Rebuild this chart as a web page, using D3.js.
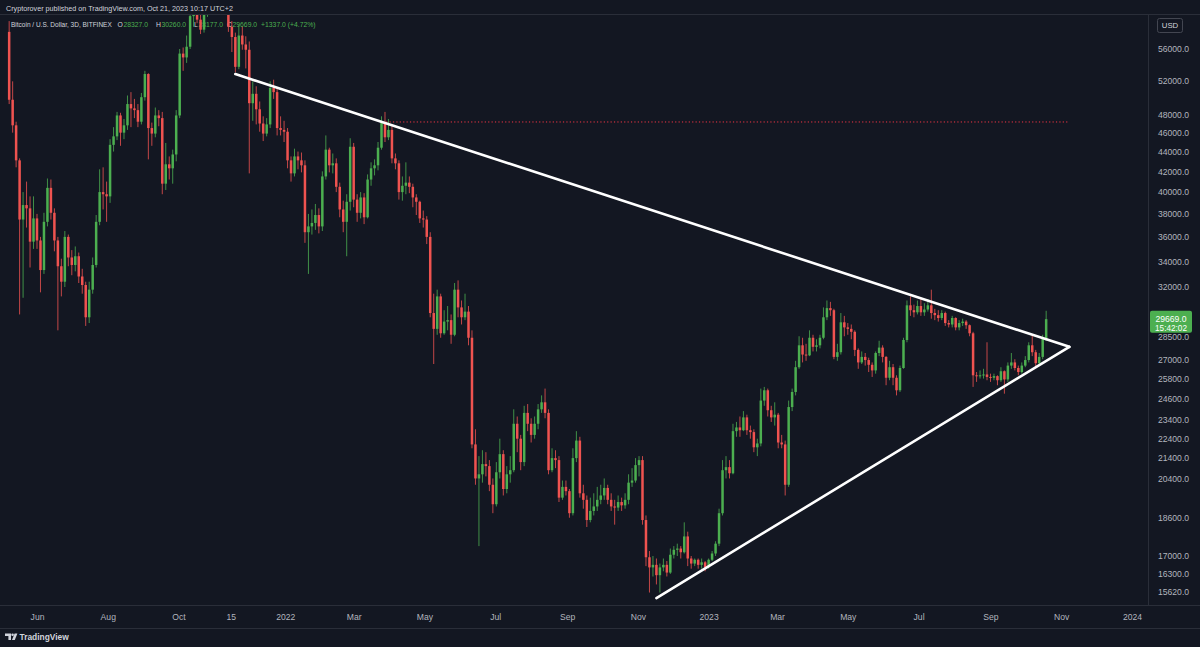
<!DOCTYPE html>
<html>
<head>
<meta charset="utf-8">
<script src="https://cdn.jsdelivr.net/npm/d3@7/dist/d3.min.js"></script>
<style>
  html, body { margin:0; padding:0; background:#131722; overflow:hidden; }
  svg { display:block; }
</style>
</head>
<body>
<svg id="c" width="1200" height="647"></svg>
<script>
// ---------------- DATA (prices in thousand USD, 3-day candles) ----------------
const firstBarStart = "2021-05-08";
const barDays = 3;
const firstOpen = 58.3;
const closes = [
 49.7,46.8,43.1,37.5,38.8,38.5,35.6,37.6,35.7,33.3,
 37.3,40.4,38.1,35.7,33.6,32.4,36.0,34.3,33.7,34.4,
 32.8,32.15,29.8,31.8,33.7,37.3,40.0,39.8,39.6,44.7,
 45.6,47.9,46.0,46.8,49.2,48.7,48.5,47.2,50.0,52.8,
 46.5,45.9,47.9,47.6,40.8,42.7,42.3,43.7,47.9,55.4,
 54.9,56.3,60.5,61.5,60.0,58.6,60.9,62.0,61.8,66.8,
 64.9,63.6,62.2,59.0,57.6,53.7,57.8,56.6,55.9,49.3,
 50.4,48.6,47.0,45.9,46.9,51.1,50.6,46.5,46.3,46.1,
 43.1,41.8,43.5,43.1,42.6,36.4,36.9,37.2,37.9,36.9,
 41.5,44.2,42.6,42.8,40.5,38.4,37.3,39.1,44.5,39.3,
 38.1,39.5,37.7,41.2,42.3,42.6,44.4,47.1,45.5,46.3,
 43.3,42.8,40.0,40.6,40.9,40.5,39.5,39.1,37.6,37.5,
 36.0,30.1,29.0,31.3,28.7,29.5,29.6,28.6,31.8,30.5,
 29.8,30.2,28.4,22.1,20.4,20.6,21.1,21.0,20.1,19.2,
 20.7,21.6,19.9,20.6,20.8,23.2,22.4,21.2,23.8,23.2,
 22.6,23.2,24.0,24.4,23.8,20.8,21.4,21.3,19.5,20.0,
 19.8,18.8,21.4,22.3,19.7,19.4,18.5,18.9,19.1,19.4,
 19.6,19.95,19.4,19.1,19.05,19.3,19.15,19.4,20.2,20.3,
 21.05,21.3,18.5,16.95,16.55,16.65,16.25,16.55,16.65,16.35,
 17.05,17.25,17.3,17.15,17.8,16.9,16.7,16.85,16.65,16.75,
 16.55,16.85,17.1,17.5,18.8,20.8,20.95,20.65,22.8,23.0,
 22.85,23.55,22.85,22.75,21.95,22.15,24.5,25.1,23.95,23.55,
 23.7,22.2,22.1,20.1,24.13,25.0,26.5,27.9,27.3,27.25,
 28.4,27.8,27.9,28.4,29.8,30.45,30.3,27.15,27.45,29.45,
 29.1,29.0,28.8,27.6,26.8,27.15,26.95,26.65,26.3,27.4,
 27.75,27.15,25.85,26.5,25.85,25.1,26.45,28.25,30.65,30.3,
 30.15,30.6,30.15,30.35,30.65,30.1,29.95,29.75,30.1,29.4,
 29.3,29.75,29.1,29.4,29.5,29.25,28.7,26.0,25.95,26.0,
 26.05,25.9,25.85,25.95,25.7,26.25,25.75,26.6,26.8,26.45,
 26.2,26.6,26.95,27.9,27.45,26.75,27.15,28.332,29.669
];
const highs = [
 59.8,51.9,47.2,43.3,40.0,41.0,39.6,39.6,38.0,36.0,
 38.1,41.3,41.2,38.5,36.0,34.2,36.5,36.2,34.9,35.2,
 34.7,33.4,32.4,32.4,34.3,37.9,42.2,42.4,41.0,45.3,
 46.6,48.3,48.2,47.5,50.2,50.6,49.8,49.2,50.5,53.2,
 52.9,47.1,48.8,48.5,48.3,44.9,43.5,44.2,48.5,56.0,
 56.2,57.8,62.5,62.9,66.9,62.0,62.5,63.5,64.3,68.6,
 69.0,66.0,65.5,63.5,59.8,58.2,59.3,59.0,57.7,57.0,
 51.9,51.3,49.5,47.8,47.6,51.9,52.1,51.2,47.8,47.3,
 46.5,43.5,44.3,44.0,43.9,43.1,38.0,38.4,38.9,38.5,
 42.0,45.7,44.4,43.8,43.3,40.9,39.2,39.8,45.4,44.9,
 39.8,40.0,39.9,41.7,42.9,43.2,45.0,47.8,48.3,47.5,
 46.7,43.8,43.1,41.5,42.9,41.5,40.8,39.8,39.2,38.3,
 37.8,36.4,31.5,31.8,31.5,30.3,30.6,30.0,32.3,32.5,
 31.0,31.5,30.6,28.9,22.9,21.5,21.8,21.7,21.3,20.4,
 21.2,22.4,21.8,21.0,21.5,24.0,23.6,22.6,24.2,24.3,
 23.5,23.6,24.3,24.8,25.2,24.0,21.9,21.8,21.5,20.3,
 20.3,19.9,21.9,22.8,22.5,20.1,19.6,19.5,19.7,20.0,
 20.1,20.4,20.1,19.7,19.4,19.6,19.5,19.7,20.6,20.9,
 21.4,21.5,21.5,18.7,17.2,17.0,16.9,16.7,16.9,16.8,
 17.3,17.4,17.5,17.4,18.4,18.0,17.0,16.9,16.9,16.9,
 16.8,16.9,17.2,17.6,19.0,21.3,21.5,21.3,23.2,23.3,
 23.6,23.9,23.7,23.1,22.9,22.4,25.2,25.3,25.2,24.2,
 24.4,23.8,22.6,22.3,24.5,25.2,26.9,28.5,28.4,28.0,
 28.9,28.6,28.3,28.6,30.5,31.0,30.9,30.4,28.0,30.1,
 29.9,29.4,29.3,28.9,27.7,27.5,27.4,27.1,26.8,27.5,
 28.2,27.9,27.2,26.9,26.7,26.0,26.6,28.4,31.0,31.3,
 30.7,31.0,31.2,30.8,31.1,31.8,30.4,30.3,30.3,30.2,
 29.6,29.9,29.8,29.6,29.7,29.6,29.3,28.8,26.2,26.3,
 26.4,28.1,26.1,26.1,26.0,26.5,26.3,26.8,27.4,27.0,
 26.6,26.8,27.2,28.1,28.6,27.6,27.4,28.6,30.26
];
const lows = [
 49.2,46.0,42.4,30.0,31.2,36.8,33.5,35.0,35.0,31.6,
 33.0,36.9,37.5,34.8,28.9,31.3,32.0,33.6,32.9,33.2,
 32.3,31.5,29.2,29.4,31.5,33.5,37.0,38.4,37.3,39.0,
 44.0,45.2,44.6,45.3,46.3,46.6,47.6,46.6,46.9,49.6,
 43.2,44.6,45.5,46.7,39.8,40.2,41.2,40.8,43.0,47.6,
 53.2,54.2,56.0,59.0,59.5,58.0,58.2,60.4,60.9,61.0,
 62.3,62.8,60.9,58.3,55.6,53.0,53.4,55.9,53.5,41.8,
 47.3,46.9,46.1,45.1,45.6,46.5,49.8,45.7,45.7,45.0,
 42.3,41.0,41.5,42.2,41.9,35.5,33.0,36.2,36.6,36.3,
 36.5,41.2,41.9,41.8,40.0,37.7,36.4,34.4,38.3,38.6,
 37.3,37.6,37.1,37.6,40.6,41.6,42.1,44.2,45.0,45.2,
 42.8,42.2,39.3,39.2,39.8,39.9,38.6,37.9,37.2,36.8,
 35.4,29.8,26.7,28.6,28.4,28.6,28.9,28.0,28.5,29.8,
 29.3,29.6,27.9,21.9,20.1,17.4,20.2,20.5,19.8,18.8,
 19.1,20.4,19.6,19.7,20.2,20.7,21.7,20.8,21.0,22.8,
 22.2,22.4,22.9,23.8,23.5,20.6,20.7,20.9,19.3,19.4,
 19.6,18.6,18.7,21.2,19.5,19.0,18.2,18.4,18.7,18.9,
 19.2,19.4,19.2,18.9,18.3,18.9,18.9,19.0,19.2,20.0,
 20.2,20.5,18.3,16.6,15.6,16.2,15.9,15.6,16.4,16.2,
 16.3,16.9,17.0,16.9,17.1,16.6,16.5,16.6,16.5,16.5,
 16.4,16.5,16.8,17.0,17.4,18.7,20.4,20.4,20.6,22.5,
 22.5,22.8,22.6,22.4,21.7,21.5,22.0,24.2,23.6,23.3,
 23.1,21.9,21.9,19.6,20.0,23.9,24.8,26.4,26.8,26.9,
 27.2,27.5,27.5,27.7,28.3,29.6,29.9,27.0,26.9,27.3,
 28.5,28.6,28.3,27.2,26.4,26.7,26.6,26.2,25.9,26.1,
 27.2,26.8,25.4,25.7,25.4,24.8,25.0,26.4,28.1,29.9,
 29.8,30.0,29.9,29.9,30.2,29.7,29.6,29.5,29.6,29.2,
 29.1,29.1,28.9,28.9,29.2,29.0,28.5,25.3,25.6,25.8,
 25.8,25.7,25.6,25.7,25.4,25.6,24.9,25.6,26.4,26.3,
 26.0,26.1,26.5,26.8,27.2,26.5,26.6,27.0,28.18
];
const priceTicks = [56000,52000,48000,46000,44000,42000,40000,38000,36000,34000,32000,
  28500,27000,25800,24600,23400,22400,21400,20400,18600,17000,16300,15620];
const timeTickDates = ["2021-06-01","2021-08-01","2021-10-01","2021-11-15","2022-01-01","2022-03-01",
  "2022-05-01","2022-07-01","2022-09-01","2022-11-01","2023-01-01","2023-03-01","2023-05-01",
  "2023-07-01","2023-09-01","2023-11-01","2024-01-01"];
const timeTickLabels = ["Jun","Aug","Oct","15","2022","Mar","May","Jul","Sep","Nov","2023",
  "Mar","May","Jul","Sep","Nov","2024"];
const upperTrendDates = ["2021-11-19","2023-11-08"];
const upperTrendPrices = [52.8, 27.8];
const lowerTrendDates = ["2022-11-17","2023-11-08"];
const lowerTrendPrices = [15.4, 27.8];
const levelDates = ["2022-03-29","2023-11-08"];
const levelPrice = 47.17;
const legendTitle = "Bitcoin / U.S. Dollar, 3D, BITFINEX";
const legendLetters = ["O","H","L","C"];
const legendValues = ["28327.0","30260.0","28177.0","29669.0"];
const legendChange = "+1337.0 (+4.72%)";
const lastPriceLabel = "29669.0";
const countdownLabel = "15:42:02";

// ---------------- RENDER ----------------
const P = d3.utcParse("%Y-%m-%d");
const UP = "#4caf50", DOWN = "#ef5350", BG = "#131722", TXT = "#b2b5be", FONT = "'Liberation Sans', Arial, sans-serif";
const svg = d3.select("#c");
svg.append("rect").attr("width",1200).attr("height",647).attr("fill",BG);

const x = d3.scaleUtc().domain([P("2021-06-01"), P("2024-01-01")]).range([37, 1132]);
const y = d3.scaleLog().domain([15.62, 56]).range([592, 49]);

const candles = closes.map((c,i) => ({
  date: d3.utcDay.offset(P(firstBarStart), i*barDays),
  open: i === 0 ? firstOpen : closes[i-1],
  close: c, high: highs[i], low: lows[i]
}));
const col = d => d.close >= d.open ? UP : DOWN;

// frame lines
const frame = "#2a2e39";
svg.append("line").attr("x1",0).attr("x2",1200).attr("y1",14.5).attr("y2",14.5).attr("stroke",frame);
svg.append("line").attr("x1",1148.5).attr("x2",1148.5).attr("y1",14.5).attr("y2",605.5).attr("stroke",frame);
svg.append("line").attr("x1",0).attr("x2",1200).attr("y1",605.5).attr("y2",605.5).attr("stroke",frame);
svg.append("line").attr("x1",0).attr("x2",1200).attr("y1",628.5).attr("y2",628.5).attr("stroke",frame);

// header
svg.append("text").attr("x",6).attr("y",10.5).attr("fill","#d1d4dc").attr("font-family",FONT)
  .attr("font-size",7.2).text("Cryptorover published on TradingView.com, Oct 21, 2023 10:17 UTC+2");

// legend (laid out left to right, never overlapping)
const leg = svg.append("g").attr("font-family",FONT);
let cur = leg.append("text").attr("x",11).attr("y",27).attr("font-size",6.5).attr("fill","#d1d4dc").text(legendTitle);
let endX = 11 + cur.node().getComputedTextLength();
const legX = [117.5, 156, 194, 227];
legendLetters.forEach((l,i) => {
  const lx = Math.max(legX[i], endX + 3);
  const t = leg.append("text").attr("x",lx).attr("y",27).attr("font-size",6.8).attr("fill","#d1d4dc").text(l);
  const vx = lx + t.node().getComputedTextLength() + 0.6;
  const v = leg.append("text").attr("x",vx).attr("y",27).attr("font-size",6.8).attr("fill",UP).text(legendValues[i]);
  endX = vx + v.node().getComputedTextLength();
});
leg.append("text").attr("x",Math.max(258, endX + 4)).attr("y",27).attr("font-size",6.8).attr("fill",UP).text(legendChange);

// plot area
svg.append("clipPath").attr("id","clip").append("rect").attr("x",0).attr("y",15).attr("width",1148).attr("height",590);
const g = svg.append("g").attr("clip-path","url(#clip)");

const bw = 2.5;
const cg = g.selectAll("g.cd").data(candles).join("g").attr("class","cd");
cg.append("line")
  .attr("x1",d=>x(d.date)).attr("x2",d=>x(d.date))
  .attr("y1",d=>y(d.high)).attr("y2",d=>y(d.low))
  .attr("stroke",col).attr("stroke-width",1).attr("stroke-opacity",0.8);
cg.append("rect")
  .attr("x",d=>x(d.date)-bw/2).attr("width",bw)
  .attr("y",d=>y(Math.max(d.open,d.close)))
  .attr("height",d=>Math.max(1, Math.abs(y(d.open)-y(d.close))))
  .attr("fill",col);

// horizontal dotted level
g.append("line")
  .attr("x1",x(P(levelDates[0]))).attr("x2",x(P(levelDates[1])))
  .attr("y1",y(levelPrice)).attr("y2",y(levelPrice))
  .attr("stroke","#f23645").attr("stroke-width",1).attr("stroke-dasharray","1.2,2.2");

// triangle lines
const tl = d3.line().x(d=>x(P(d[0]))).y(d=>y(d[1]));
[[upperTrendDates,upperTrendPrices],[lowerTrendDates,lowerTrendPrices]].forEach(([ds,ps]) => {
  g.append("path").attr("d", tl(ds.map((d,i)=>[d,ps[i]])))
    .attr("fill","none").attr("stroke","#ffffff").attr("stroke-width",2.6).attr("stroke-linecap","round");
});

// price axis
const yAxis = d3.axisRight(y).tickValues(priceTicks.map(v=>v/1000))
  .tickFormat(v=>(v*1000).toFixed(1)).tickSize(0).tickPadding(0);
svg.append("g").attr("transform","translate(1158,0)").call(yAxis)
  .call(a=>a.select(".domain").remove())
  .selectAll("text").attr("fill",TXT).attr("font-family",FONT).attr("font-size",8.6)
  .attr("text-anchor","start").attr("dy","0.33em");

// time axis
const xAxis = d3.axisBottom(x).tickValues(timeTickDates.map(P))
  .tickFormat((d,i)=>timeTickLabels[i]).tickSize(0).tickPadding(0);
svg.append("g").attr("transform","translate(0,614)").call(xAxis)
  .call(a=>a.select(".domain").remove())
  .selectAll("text").attr("fill",TXT).attr("font-family",FONT).attr("font-size",8.6);

// USD box
svg.append("rect").attr("x",1157.5).attr("y",18.5).attr("width",25).attr("height",14).attr("rx",2)
  .attr("fill","none").attr("stroke","#434651");
svg.append("text").attr("x",1170).attr("y",28.3).attr("text-anchor","middle").attr("fill","#d1d4dc")
  .attr("font-family",FONT).attr("font-size",7.8).text("USD");

// last price label
const lastY = y(closes[closes.length-1]);
svg.append("rect").attr("x",1150).attr("y",lastY-8.5).attr("width",42).attr("height",22).attr("rx",2).attr("fill",UP);
svg.append("text").attr("x",1171).attr("y",lastY+3).attr("text-anchor","middle").attr("fill","#ffffff")
  .attr("font-family",FONT).attr("font-size",8.6).text(lastPriceLabel);
svg.append("text").attr("x",1171).attr("y",lastY+11.5).attr("text-anchor","middle").attr("fill","#ffffff")
  .attr("font-family",FONT).attr("font-size",8.2).text(countdownLabel);

// TradingView logo
const lg = svg.append("g").attr("fill","#d1d4dc");
lg.append("path").attr("d","M5 633.5 h6 v6.5 h-2.6 v-4 h-3.4 z");
lg.append("circle").attr("cx",12.6).attr("cy",634.8).attr("r",1.3);
lg.append("path").attr("d","M14.6 633.5 h2.8 l-2.6 6.5 h-2.8 z");
svg.append("text").attr("x",19.5).attr("y",640).attr("fill","#d1d4dc").attr("font-family",FONT)
  .attr("font-size",8.4).attr("font-weight","bold").text("TradingView");
</script>
</body>
</html>
